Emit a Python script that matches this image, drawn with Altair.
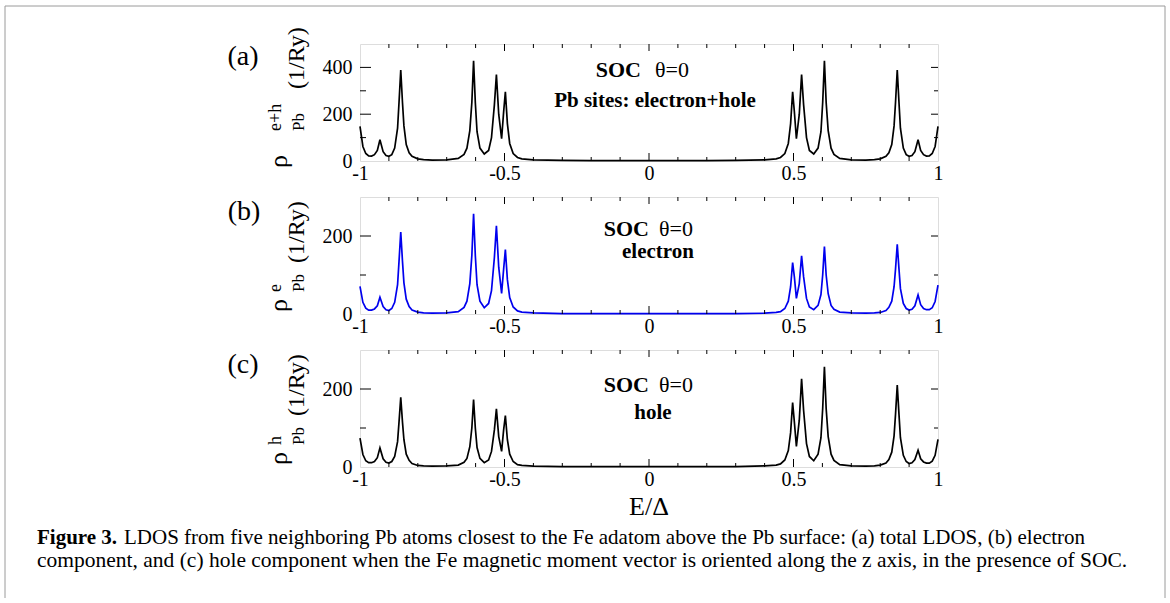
import altair as alt
import pandas as pd

# ---------------- data ----------------
E_NEG = [-1.000, -0.990, -0.980, -0.970, -0.960, -0.950, -0.940, -0.931, -0.920, -0.910,
         -0.900, -0.890, -0.880, -0.870, -0.865, -0.859, -0.853, -0.848, -0.840, -0.830,
         -0.820, -0.800, -0.780, -0.750, -0.700, -0.660, -0.640, -0.630, -0.620, -0.613,
         -0.607, -0.601, -0.595, -0.585, -0.570, -0.555, -0.545, -0.535, -0.528, -0.520,
         -0.510, -0.503, -0.497, -0.490, -0.482, -0.470, -0.455, -0.440, -0.400, -0.300,
         -0.200, -0.100]
E_MID = [0.0]
E_POS = [0.100, 0.200, 0.300, 0.400, 0.440, 0.455, 0.470, 0.482, 0.490, 0.497,
         0.503, 0.510, 0.520, 0.528, 0.535, 0.545, 0.555, 0.570, 0.585, 0.595,
         0.601, 0.607, 0.613, 0.620, 0.630, 0.640, 0.660, 0.700, 0.750, 0.780,
         0.800, 0.820, 0.830, 0.840, 0.848, 0.853, 0.859, 0.865, 0.870, 0.880,
         0.890, 0.900, 0.910, 0.920, 0.931, 0.940, 0.950, 0.960, 0.970, 0.980,
         0.990, 1.000]

# (a) electron + hole
EH_NEG = [148, 62, 32, 22, 21, 27, 45, 91, 40, 23, 20, 27, 55, 140, 250, 389, 250, 150, 70, 35,
          20, 9, 6, 4, 5, 11, 28, 55, 130, 250, 428, 250, 125, 55, 30, 45, 100, 240, 369, 200,
          95, 210, 296, 160, 75, 32, 15, 9, 5, 3, 2, 2]
EH_MID = [2]
EH_POS = [2, 2, 3, 5, 9, 15, 32, 75, 160, 296, 210, 95, 200, 369, 240, 100, 45, 30, 55, 125,
          250, 428, 250, 130, 55, 28, 11, 5, 4, 6, 9, 20, 35, 70, 150, 250, 389, 250, 140, 55,
          27, 20, 23, 40, 91, 45, 27, 21, 22, 32, 62, 148]

# (b) electron
EL_NEG = [71, 30, 15, 10, 10, 13, 21, 43, 19, 11, 9, 14, 30, 75, 135, 210, 135, 80, 38, 19,
          10, 5, 3, 2, 3, 6, 17, 33, 78, 150, 257, 150, 75, 33, 16, 27, 60, 145, 226, 120,
          53, 115, 165, 88, 42, 18, 8, 5, 3, 1, 1, 1]
EL_MID = [1]
EL_POS = [1, 1, 1, 2, 4, 6, 14, 33, 70, 132, 95, 40, 78, 149, 95, 40, 18, 11, 22, 50,
          100, 173, 100, 52, 22, 12, 5, 3, 2, 3, 4, 9, 17, 33, 70, 115, 179, 115, 65, 27,
          14, 10, 12, 21, 49, 24, 14, 11, 11, 16, 32, 74]

# (c) hole
HO_NEG = [74, 32, 16, 11, 11, 14, 24, 49, 21, 12, 10, 14, 27, 65, 115, 179, 115, 70, 33, 17,
          9, 4, 3, 2, 3, 5, 12, 22, 52, 100, 173, 100, 50, 22, 11, 18, 40, 95, 149, 78,
          40, 95, 132, 70, 33, 14, 6, 4, 2, 1, 1, 1]
HO_MID = [1]
HO_POS = [1, 1, 1, 3, 5, 8, 18, 42, 88, 165, 115, 53, 120, 226, 145, 60, 27, 16, 33, 75,
          150, 257, 150, 78, 33, 17, 6, 3, 2, 3, 5, 10, 19, 38, 80, 135, 210, 135, 75, 30,
          14, 9, 11, 19, 43, 21, 13, 10, 10, 15, 30, 71]

X_LABELS = [-1, -0.5, 0, 0.5, 1]
X_MINOR = [-0.9, -0.8, -0.7, -0.6, -0.4, -0.3, -0.2, -0.1, 0.1, 0.2, 0.3, 0.4, 0.6, 0.7, 0.8, 0.9]
X_MAJOR = [-0.5, 0, 0.5]

CAPTION_BOLD = "Figure 3."
CAPTION_1 = ("LDOS from five neighboring Pb atoms closest to the Fe adatom above the Pb surface: "
             "(a) total LDOS, (b) electron")
CAPTION_2 = ("component, and (c) hole component when the Fe magnetic moment vector is oriented "
             "along the z axis, in the presence of SOC.")

# ---------------- layout ----------------
W, H = 578, 117
SERIF = "Liberation Serif"
DUMMY = pd.DataFrame({"k": [0]})
XS = alt.Scale(domain=[-1, 1], nice=False, zero=False)

AX_X = alt.Axis(values=X_LABELS, ticks=False, tickSize=0, domain=False, grid=False,
                labelFont=SERIF, labelFontSize=20, labelColor="black",
                labelPadding=2, labelFlush=False, labelOverlap=False, title=None,
                labelExpr="(datum.value < 0 ? '-' : '') + format(abs(datum.value), '~g')")


def ax_y(vals):
    return alt.Axis(values=vals, ticks=False, tickSize=0, domain=False, grid=False,
                    labelFont=SERIF, labelFontSize=20, labelColor="black",
                    labelPadding=8, labelFlush=False, labelOverlap=False, title=None)


def txt(s, x, y, size, weight="normal", align="center", baseline="middle", angle=0,
        color="black"):
    props = dict(text=s, fontSize=size, fontWeight=weight, align=align, baseline=baseline,
                 font=SERIF, color=color)
    if angle:
        props["angle"] = angle
    return alt.Chart(DUMMY).mark_text(**props).encode(x=alt.value(x), y=alt.value(y))


def xticks(vals, length, top):
    df = pd.DataFrame({"t": vals})
    if top:
        yy, yy2 = alt.value(0), alt.value(length)
    else:
        yy, yy2 = alt.value(H), alt.value(H - length)
    return alt.Chart(df).mark_rule(color="black", strokeWidth=1).encode(
        x=alt.X("t:Q", scale=XS, axis=AX_X), y=yy, y2=yy2)


def yticks(vals, ys, ax, length, right):
    df = pd.DataFrame({"t": vals})
    if right:
        xx, xx2 = alt.value(W), alt.value(W - length)
    else:
        xx, xx2 = alt.value(0), alt.value(length)
    return alt.Chart(df).mark_rule(color="black", strokeWidth=1).encode(
        y=alt.Y("t:Q", scale=ys, axis=ax), x=xx, x2=xx2)


def panel(neg, mid, pos, color, ymax, ylabels, yminor, extra):
    df = pd.DataFrame({"E": E_NEG + E_MID + E_POS, "rho": neg + mid + pos})
    ys = alt.Scale(domain=[0, ymax], nice=False, zero=False)
    ay = ax_y(ylabels)
    line = alt.Chart(df).mark_line(color=color, strokeWidth=1.7).encode(
        x=alt.X("E:Q", scale=XS, axis=AX_X),
        y=alt.Y("rho:Q", scale=ys, axis=ay),
    )
    ymaj = [v for v in ylabels if v > 0]
    layers = [
        line,
        xticks(X_MINOR, 4, False), xticks(X_MAJOR, 8, False),
        xticks(X_MINOR, 4, True), xticks(X_MAJOR, 7, True),
        yticks(ymaj, ys, ay, 11, False), yticks(yminor, ys, ay, 6, False),
        yticks(ymaj, ys, ay, 7, True), yticks(yminor, ys, ay, 4, True),
    ] + extra
    return alt.layer(*layers).properties(width=W, height=H)


def ytitle(sup, rho_y, scr_y, unit_y, sup_x):
    return [
        txt("ρ", -73, rho_y, 26, align="left", baseline="alphabetic", angle=270),
        txt(sup, sup_x, scr_y, 18, align="left", baseline="alphabetic", angle=270),
        txt("Pb", -56, scr_y, 17, align="left", baseline="alphabetic", angle=270),
        txt("(1/Ry)", -56, unit_y, 24, align="left", baseline="alphabetic", angle=270),
    ]


FRAME = "#9a9a9a"
frame = [
    alt.Chart(DUMMY).mark_rule(color=FRAME, strokeWidth=1).encode(
        x=alt.value(-355), y=alt.value(-38), y2=alt.value(554)),
    alt.Chart(DUMMY).mark_rule(color=FRAME, strokeWidth=1).encode(
        x=alt.value(805), y=alt.value(-38), y2=alt.value(554)),
    alt.Chart(DUMMY).mark_rule(color=FRAME, strokeWidth=1).encode(
        x=alt.value(-355), x2=alt.value(805), y=alt.value(-38)),
]

extra_a = frame + [
    txt("(a)", -117, 13, 28),
    txt("SOC", 281, 26, 22, weight="bold", align="right"),
    txt("θ=0", 295, 26, 22, align="left"),
    txt("Pb sites: electron+hole", 295, 57, 21, weight="bold"),
] + ytitle("e+h", 124, 87, 45, -79)

extra_b = [
    txt("(b)", -116, 15, 28),
    txt("SOC", 289, 32, 22, weight="bold", align="right"),
    txt("θ=0", 299, 32, 22, align="left"),
    txt("electron", 298, 55, 21, weight="bold"),
] + ytitle("e", 115, 95, 66, -79)

extra_c = [
    txt("(c)", -117, 15, 28),
    txt("SOC", 289, 35, 22, weight="bold", align="right"),
    txt("θ=0", 299, 35, 22, align="left"),
    txt("hole", 293, 63, 21, weight="bold"),
    txt("E/Δ", W / 2, 157, 26),
    txt(CAPTION_BOLD, -323, 188, 21, weight="bold", align="left"),
    txt(CAPTION_1, -236, 188, 21, align="left"),
    txt(CAPTION_2, -323, 211, 21.5, align="left"),
] + ytitle("h", 115, 95, 66, -79)

pa = panel(EH_NEG, EH_MID, EH_POS, "black", 500, [0, 200, 400], [100, 300], extra_a)
pb = panel(EL_NEG, EL_MID, EL_POS, "#0000ee", 300, [0, 200], [100], extra_b)
pc = panel(HO_NEG, HO_MID, HO_POS, "black", 300, [0, 200], [100], extra_c)

chart = alt.VConcatChart(vconcat=[pa, pb, pc], spacing=36, bounds="flush").properties(
    padding={"left": 4, "top": 5, "right": 0, "bottom": 0}
).configure_view(stroke="black", strokeWidth=1).configure(background="white")

chart.save("out.html", embed_options={"renderer": "svg", "actions": False})
